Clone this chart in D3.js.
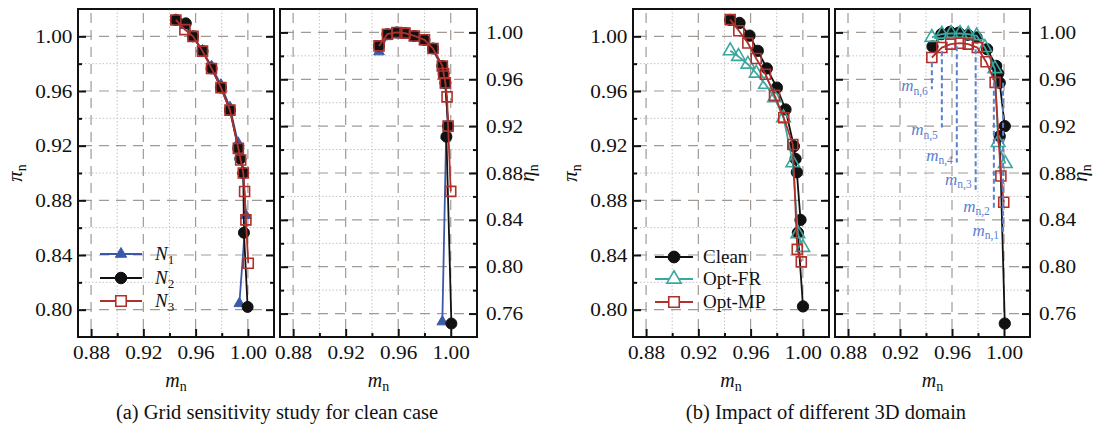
<!DOCTYPE html>
<html><head><meta charset="utf-8">
<script src="https://cdn.jsdelivr.net/npm/d3@7"></script>
<style>
body{margin:0;background:#fff}
svg{display:block}
text{font-family:"Liberation Serif","Times New Roman",serif;fill:#111}
</style>
</head><body>
<svg id="c" width="1099" height="428"></svg>
<script>
// ---------- data ----------
const mTicks = [0.88, 0.92, 0.96, 1.00];
const mMinor = [0.90, 0.94, 0.98];
const piTicks = [0.80, 0.84, 0.88, 0.92, 0.96, 1.00];
const piMinor = [0.82, 0.86, 0.90, 0.94, 0.98];
const etaTicks = [0.76, 0.80, 0.84, 0.88, 0.92, 0.96, 1.00];
const etaMinor = [0.78, 0.82, 0.86, 0.90, 0.94, 0.98];

// (a) pressure ratio vs mass flow
const aPiN1 = [[0.9449,1.012],[0.9518,1.008],[0.958,0.9995],[0.9653,0.9895],[0.9722,0.978],[0.9794,0.9645],[0.9863,0.948],[0.9925,0.922],[0.9945,0.912],[0.9962,0.901],[0.9985,0.869],[0.9935,0.8045]];
const aPiN2 = [[0.9449,1.012],[0.9525,1.0095],[0.958,1.000],[0.9653,0.9892],[0.9722,0.9765],[0.9794,0.9625],[0.9863,0.946],[0.9927,0.9179],[0.9942,0.9105],[0.9965,0.900],[0.997,0.8563],[0.9998,0.802]];
const aPiN3 = [[0.9449,1.012],[0.9518,1.0049],[0.958,1.000],[0.9653,0.9892],[0.9722,0.9765],[0.9794,0.9625],[0.9863,0.946],[0.9927,0.918],[0.9945,0.9095],[0.9965,0.900],[0.9975,0.8865],[0.9985,0.8657],[1.0003,0.834]];
// (a) efficiency vs mass flow
const aEtaN1 = [[0.9454,0.9835],[0.9518,0.9965],[0.959,0.998],[0.9652,0.998],[0.9723,0.9955],[0.980,0.992],[0.9865,0.985],[0.9936,0.970],[0.9946,0.963],[0.9959,0.955],[0.998,0.921],[0.9965,0.912],[0.9936,0.753]];
const aEtaN2 = [[0.9454,0.9885],[0.9518,0.9985],[0.959,1.0],[0.9652,0.9994],[0.9723,0.997],[0.980,0.9937],[0.9865,0.9863],[0.9936,0.9714],[0.9946,0.9649],[0.9959,0.957],[0.998,0.920],[0.9967,0.911],[1.0005,0.7515]];
const aEtaN3 = [[0.9454,0.9885],[0.9518,0.9985],[0.959,1.0],[0.9652,0.9994],[0.9723,0.997],[0.980,0.9937],[0.9865,0.9863],[0.9936,0.9714],[0.9946,0.9649],[0.9959,0.957],[0.9972,0.945],[0.998,0.920],[1.000,0.8643]];
// (b) pressure ratio
const bPiClean = [[0.9444,1.012],[0.9515,1.0098],[0.9592,1.0005],[0.9655,0.9894],[0.9724,0.9765],[0.9801,0.9625],[0.9867,0.9465],[0.9931,0.9196],[0.9944,0.9103],[0.9954,0.9005],[0.9982,0.8657],[0.9962,0.8563],[1.0001,0.8024]];
const bPiFR = [[0.9444,0.9894],[0.9507,0.9853],[0.9579,0.9796],[0.9643,0.973],[0.9714,0.9649],[0.9783,0.9551],[0.9852,0.9404],[0.9923,0.9074],[0.9962,0.8555],[1.0,0.8455]];
const bPiMP = [[0.9444,1.0122],[0.9510,1.0041],[0.9579,0.9951],[0.9643,0.9838],[0.9714,0.9723],[0.9783,0.9568],[0.9854,0.9404],[0.9923,0.9208],[0.9957,0.8441],[0.9988,0.835]];
// (b) efficiency
const bEtaClean = [[0.9450,0.9880],[0.9518,0.9985],[0.9585,1.0005],[0.9652,0.9998],[0.9723,0.998],[0.9789,0.9957],[0.9870,0.9857],[0.9940,0.9714],[0.9955,0.9649],[0.9967,0.957],[1.0006,0.920],[0.9967,0.9114],[1.0006,0.7515]];
const bEtaFR = [[0.9445,0.9957],[0.9522,0.9985],[0.9593,0.9991],[0.9662,0.9991],[0.9725,0.9985],[0.9789,0.9971],[0.9853,0.9871],[0.9930,0.969],[0.9955,0.906],[1.001,0.888]];
const bEtaMP = [[0.9445,0.9786],[0.9522,0.9871],[0.9590,0.99],[0.9662,0.9908],[0.9725,0.99],[0.9795,0.9871],[0.9862,0.975],[0.9932,0.9574],[0.9976,0.8775],[0.9998,0.855]];

// operating point markers m_n,i
const annIndex = ["1","2","3","4","5","6"];
const annM = [0.9993, 0.9922, 0.9782, 0.9637, 0.9522, 0.9445];
const annTop = [0.957, 0.957, 0.9857, 0.9883, 0.984, 0.9746];
const annBottom = [0.8272, 0.8503, 0.8657, 0.8889, 0.9188, 0.9514];
const annLabelEta = [0.8289, 0.8495, 0.8726, 0.8932, 0.9146, 0.9523];

const legendA = ["1","2","3"];
const legendB = ["Clean","Opt-FR","Opt-MP"];

// ---------- styles ----------
const RED = "#b0302c", BLUE = "#3a5aa8", TEAL = "#3aa89f", BLK = "#111", ANN = "#5a80d0";
const styles = {
  N1:{color:BLUE, sym:d3.symbolTriangle, size:50, fill:true},
  N2:{color:BLK, sym:d3.symbolCircle, size:95, fill:true},
  N3:{color:RED, sym:d3.symbolSquare, size:100, fill:false},
  Clean:{color:BLK, sym:d3.symbolCircle, size:100, fill:true},
  FR:{color:TEAL, sym:d3.symbolTriangle, size:80, fill:false},
  MP:{color:RED, sym:d3.symbolSquare, size:100, fill:false}
};

const svg = d3.select("#c");
const TICKFS = 19, SX = 1.12;

function panel(cfg){
  const x = d3.scaleLinear().domain([0.87,1.02]).range([cfg.x0,cfg.x1]);
  const y = d3.scaleLinear().domain(cfg.yDom).range([cfg.y1,cfg.y0]);
  const g = svg.append("g");
  // minor grid (dotted)
  g.selectAll(".mgx").data(mMinor).join("line")
    .attr("x1",d=>x(d)).attr("x2",d=>x(d)).attr("y1",cfg.y0).attr("y2",cfg.y1)
    .attr("stroke","#c4c4c4").attr("stroke-width",1).attr("stroke-dasharray","1.5,2");
  g.selectAll(".mgy").data(cfg.yMinor).join("line")
    .attr("y1",d=>y(d)).attr("y2",d=>y(d)).attr("x1",cfg.x0).attr("x2",cfg.x1)
    .attr("stroke","#c4c4c4").attr("stroke-width",1).attr("stroke-dasharray","1.5,2");
  // major grid (dashed)
  g.selectAll(".Mgx").data(mTicks).join("line")
    .attr("x1",d=>x(d)).attr("x2",d=>x(d)).attr("y1",cfg.y0).attr("y2",cfg.y1)
    .attr("stroke","#a19a94").attr("stroke-width",1.2).attr("stroke-dasharray","10,7").attr("stroke-dashoffset",-4);
  g.selectAll(".Mgy").data(cfg.yTicks).join("line")
    .attr("y1",d=>y(d)).attr("y2",d=>y(d)).attr("x1",cfg.x0).attr("x2",cfg.x1)
    .attr("stroke","#a19a94").attr("stroke-width",1.2).attr("stroke-dasharray","10,7").attr("stroke-dashoffset",-4);

  // axes
  const fmt = d3.format(".2f");
  g.append("g").attr("transform",`translate(0,${cfg.y1})`)
    .call(d3.axisBottom(x).tickValues(mTicks).tickSize(-8).tickPadding(9).tickFormat(fmt));
  g.append("g").attr("transform",`translate(0,${cfg.y1})`)
    .call(d3.axisBottom(x).tickValues(mMinor).tickSize(-4).tickFormat(""));
  if(cfg.side==="left"){
    g.append("g").attr("transform",`translate(${cfg.x0},0)`)
      .call(d3.axisLeft(y).tickValues(cfg.yTicks).tickSize(-8).tickPadding(5).tickFormat(fmt));
    g.append("g").attr("transform",`translate(${cfg.x0},0)`)
      .call(d3.axisLeft(y).tickValues(cfg.yMinor).tickSize(-4).tickFormat(""));
    g.append("g").attr("transform",`translate(${cfg.x1},0)`)
      .call(d3.axisRight(y).tickValues(cfg.yTicks).tickSize(-8).tickFormat(""));
    g.append("g").attr("transform",`translate(${cfg.x1},0)`)
      .call(d3.axisRight(y).tickValues(cfg.yMinor).tickSize(-4).tickFormat(""));
  } else {
    g.append("g").attr("transform",`translate(${cfg.x1},0)`)
      .call(d3.axisRight(y).tickValues(cfg.yTicks).tickSize(-8).tickPadding(8).tickFormat(fmt));
    g.append("g").attr("transform",`translate(${cfg.x1},0)`)
      .call(d3.axisRight(y).tickValues(cfg.yMinor).tickSize(-4).tickFormat(""));
    g.append("g").attr("transform",`translate(${cfg.x0},0)`)
      .call(d3.axisLeft(y).tickValues(cfg.yTicks).tickSize(-8).tickFormat(""));
    g.append("g").attr("transform",`translate(${cfg.x0},0)`)
      .call(d3.axisLeft(y).tickValues(cfg.yMinor).tickSize(-4).tickFormat(""));
  }
  g.selectAll(".domain").remove();
  g.selectAll(".tick line").attr("stroke","#111").attr("stroke-width",2);
  g.selectAll(".tick text").attr("font-size",TICKFS).attr("font-family","Liberation Serif, serif")
    .attr("fill","#222").attr("transform",`scale(${SX},1)`);

  // series
  const line = d3.line().x(d=>x(d[0])).y(d=>y(d[1]));
  cfg.series.forEach(s=>{
    const st = styles[s.key];
    g.append("path").attr("d",line(s.data)).attr("fill","none")
      .attr("stroke",st.color).attr("stroke-width",1.8);
    g.selectAll(null).data(s.data).join("path")
      .attr("transform",d=>`translate(${x(d[0])},${y(d[1])})`)
      .attr("d",d3.symbol().type(st.sym).size(st.size)())
      .attr("fill",st.fill?st.color:"none")
      .attr("stroke",st.color).attr("stroke-width",st.fill?1:1.6);
  });

  // frame
  g.append("rect").attr("x",cfg.x0).attr("y",cfg.y0)
    .attr("width",cfg.x1-cfg.x0).attr("height",cfg.y1-cfg.y0)
    .attr("fill","none").attr("stroke","#111").attr("stroke-width",2);

  // x label m_n
  const xl = g.append("text").attr("x",(cfg.x0+cfg.x1)/2).attr("y",387)
    .attr("text-anchor","middle").attr("font-size",20);
  xl.append("tspan").attr("font-style","italic").text("m");
  xl.append("tspan").attr("font-size",14).attr("dy",4).text("n");

  // y label
  const lx = cfg.side==="left" ? cfg.x0-56 : cfg.x1+57;
  const yl = g.append("text").attr("transform",`translate(${lx},${(cfg.y0+cfg.y1)/2}) rotate(-90)`)
    .attr("text-anchor","middle").attr("font-size",21);
  yl.append("tspan").attr("font-style","italic").text(cfg.side==="left"?"π":"η");
  yl.append("tspan").attr("font-size",14).attr("dy",4).text("n");

  return {g,x,y};
}

const Y0 = 9, Y1 = 337;
const aL = panel({x0:78,x1:274,y0:Y0,y1:Y1,yDom:[0.78,1.02],yTicks:piTicks,yMinor:piMinor,side:"left",
  series:[{key:"N1",data:aPiN1},{key:"N2",data:aPiN2},{key:"N3",data:aPiN3}]});
const aR = panel({x0:280,x1:477,y0:Y0,y1:Y1,yDom:[0.74,1.02],yTicks:etaTicks,yMinor:etaMinor,side:"right",
  series:[{key:"N1",data:aEtaN1},{key:"N2",data:aEtaN2},{key:"N3",data:aEtaN3}]});
const bL = panel({x0:633,x1:829,y0:Y0,y1:Y1,yDom:[0.78,1.02],yTicks:piTicks,yMinor:piMinor,side:"left",
  series:[{key:"Clean",data:bPiClean},{key:"FR",data:bPiFR},{key:"MP",data:bPiMP}]});
const bR = panel({x0:835,x1:1030,y0:Y0,y1:Y1,yDom:[0.74,1.02],yTicks:etaTicks,yMinor:etaMinor,side:"right",
  series:[{key:"Clean",data:bEtaClean},{key:"FR",data:bEtaFR},{key:"MP",data:bEtaMP}]});

// annotations on bR
annM.forEach((m,i)=>{
  const xx = bR.x(m);
  bR.g.append("line").attr("x1",xx).attr("x2",xx).attr("y1",bR.y(annTop[i])).attr("y2",bR.y(annBottom[i]))
    .attr("stroke",ANN).attr("stroke-width",2).attr("stroke-dasharray","5,3");
  const t = bR.g.append("text").attr("x",xx-4).attr("y",bR.y(annLabelEta[i])+3)
    .attr("text-anchor","end").attr("font-size",17).style("fill",ANN);
  t.append("tspan").attr("font-style","italic").text("m");
  t.append("tspan").attr("font-size",11.5).attr("dy",3.5).text("n,"+annIndex[i]);
});

// legends
function legend(p, cx, x0, x1, tx, ys, keys, labels, sub){
  keys.forEach((k,i)=>{
    const st = styles[k];
    p.g.append("line").attr("x1",x0).attr("x2",x1).attr("y1",ys[i]).attr("y2",ys[i])
      .attr("stroke",st.color).attr("stroke-width",1.8);
    p.g.append("path").attr("transform",`translate(${cx},${ys[i]})`)
      .attr("d",d3.symbol().type(st.sym).size(st.size*1.1)())
      .attr("fill",st.fill?st.color:"#fff").attr("stroke",st.color).attr("stroke-width",st.fill?1:1.6);
    const t = p.g.append("text").attr("x",tx).attr("y",ys[i]+6).attr("font-size",19);
    if(sub){
      t.append("tspan").attr("font-style","italic").text("N");
      t.append("tspan").attr("font-size",13).attr("dy",4).text(labels[i]);
    } else t.text(labels[i]);
  });
}
legend(aL,121,100,142,155,[254,278,301],["N1","N2","N3"],legendA,true);
legend(bL,674,655,693,703,[257,279,302],["Clean","FR","MP"],legendB,false);

// captions
svg.append("text").attr("x",277).attr("y",419).attr("text-anchor","middle").attr("font-size",20.5)
  .text("(a) Grid sensitivity study for clean case");
svg.append("text").attr("x",826).attr("y",419).attr("text-anchor","middle").attr("font-size",20.5)
  .text("(b) Impact of different 3D domain");
</script>
</body></html>
